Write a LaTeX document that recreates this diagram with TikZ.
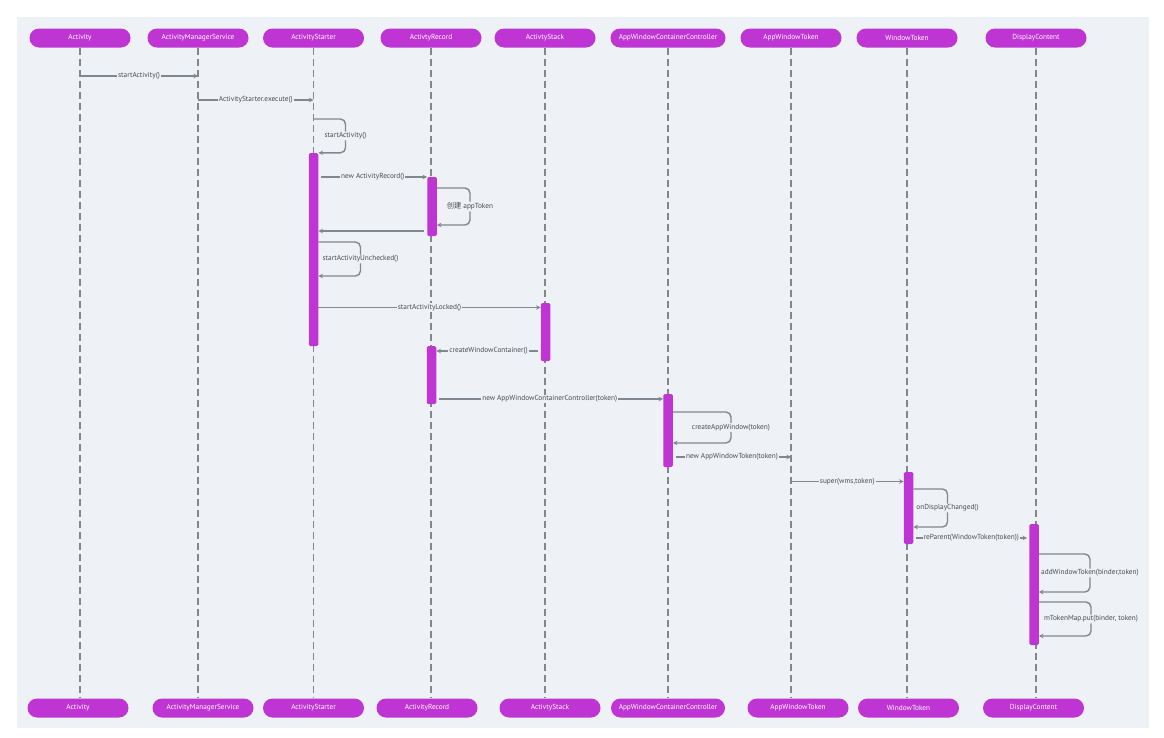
\documentclass[tikz,border=0pt]{standalone}
\usepackage{fontspec}
\setmainfont{PT Sans}
\newfontfamily\cjkfont{Noto Sans CJK SC}
\usetikzlibrary{arrows.meta}
\definecolor{objpurple}{HTML}{BE35D3}
\definecolor{panelgray}{HTML}{EEF2F6}
\definecolor{linegray}{HTML}{80878E}
\definecolor{textgray}{HTML}{464B51}
\begin{document}
\begin{tikzpicture}[x=1pt,y=-1pt,>={Stealth[length=4.5pt,width=4.5pt]},
  obj/.style={fill=objpurple,rounded corners=9.5pt,minimum width=101pt,minimum height=19pt,inner sep=0pt,text=white,font=\fontsize{7.3}{8}\selectfont},
  life/.style={draw=linegray,line width=1.4pt,dash pattern=on 7pt off 4pt},
  bar/.style={fill=objpurple,rounded corners=1.5pt,minimum width=9.5pt,inner sep=0pt},
  msg/.style={draw=linegray,line width=1.4pt,->},
  loopmsg/.style={msg,rounded corners=5pt},
  lbl/.style={fill=panelgray,text=textgray,inner sep=1pt,font=\fontsize{7.3}{8}\selectfont}]
\useasboundingbox (0,0) rectangle (1164,737);
\fill[panelgray] (17,17) rectangle (1149,728);
% participants, top
\node[obj] (actT) at (80,38) {Activity};
\node[obj] (amsT) at (198,38) {ActivityManagerService};
\node[obj] (staT) at (313.5,38) {ActivityStarter};
\node[obj] (recT) at (431,38) {ActivtyRecord};
\node[obj] (stkT) at (545,38) {ActivtyStack};
\node[obj,minimum width=115pt] (awcT) at (668,38) {AppWindowContainerController};
\node[obj] (awtT) at (791,38) {AppWindowToken};
\node[obj] (wtT) at (907,38) {WindowToken};
\node[obj] (dcT) at (1036,38) {DisplayContent};
% participants, bottom
\node[obj] (actB) at (78,708) {Activity};
\node[obj] (amsB) at (203,708) {ActivityManagerService};
\node[obj] (staB) at (313.5,708) {ActivityStarter};
\node[obj] (recB) at (427,708) {ActivityRecord};
\node[obj] (stkB) at (550,708) {ActivtyStack};
\node[obj,minimum width=114pt] (awcB) at (668,708) {AppWindowContainerController};
\node[obj] (awtB) at (798,708) {AppWindowToken};
\node[obj] (wtB) at (908.5,708) {WindowToken};
\node[obj] (dcB) at (1033.5,708) {DisplayContent};
% lifelines
\draw[life] (actT.south) -- (actT.south |- actB.north);
\draw[life] (amsT.south) -- (amsT.south |- amsB.north);
\draw[life] (staT.south) -- (staT.south |- staB.north);
\draw[life] (recT.south) -- (recT.south |- recB.north);
\draw[life] (stkT.south) -- (stkT.south |- stkB.north);
\draw[life] (awcT.south) -- (awcT.south |- awcB.north);
\draw[life] (awtT.south) -- (awtT.south |- awtB.north);
\draw[life] (wtT.south) -- (wtT.south |- wtB.north);
\draw[life] (dcT.south) -- (dcT.south |- dcB.north);
% activation bars
\node[bar,minimum height=193pt] (barS) at (313.5,249.5) {};
\node[bar,minimum height=59pt] (barR1) at (432,206.5) {};
\node[bar,minimum height=58pt] (barK) at (545.5,332) {};
\node[bar,minimum height=58pt] (barR2) at (431.5,375) {};
\node[bar,minimum height=73pt] (barC) at (668,430.5) {};
\node[bar,minimum height=72pt] (barW) at (908.5,508) {};
\node[bar,minimum height=121pt] (barD) at (1034,584.5) {};
% message rows
\coordinate (r1) at (0,76);
\coordinate (r2) at (0,100);
\coordinate (r3) at (0,119);
\coordinate (r4) at (0,177);
\coordinate (r5) at (0,188);
\coordinate (r6) at (0,231);
\coordinate (r7) at (0,242);
\coordinate (r8) at (0,307.5);
\coordinate (r9) at (0,351);
\coordinate (r10) at (0,399);
\coordinate (r11) at (0,412);
\coordinate (r12) at (0,457);
\coordinate (r13) at (0,481.5);
\coordinate (r14) at (0,489);
\coordinate (r15) at (0,538);
\coordinate (r16) at (0,554);
\coordinate (r17) at (0,602);
% messages
\draw[msg] (actT |- r1) -- node[lbl] {startActivity()} (amsT |- r1);
\draw[msg] (amsT |- r2) -- node[lbl] {ActivityStarter.execute()} (staT |- r2);
\draw[loopmsg] (staT |- r3) -- ++(32,0) |- node[lbl,pos=0.25] {startActivity()} (barS.north east);
\draw[msg,shorten <=3pt] (barS.east |- r4) -- node[lbl] {new ActivityRecord()} (barR1.west |- r4);
\draw[loopmsg] (barR1.east |- r5) -- ++(33,0) -- node[lbl] {{\cjkfont 创建} appToken} ++(0,37) -- ++(-33,0);
\draw[msg,shorten <=3pt] (barR1.west |- r6) -- (barS.east |- r6);
\draw[loopmsg] (barS.east |- r7) -- ++(42,0) -- node[lbl] {startActivityUnchecked()} ++(0,34) -- ++(-42,0);
\draw[msg] (barS.east |- r8) -- node[lbl] {startActivityLocked()} (barK.west |- r8);
\draw[msg,shorten <=3pt] (barK.west |- r9) -- node[lbl] {createWindowContainer()} (barR2.east |- r9);
\draw[msg,shorten <=3pt] (barR2.east |- r10) -- node[lbl] {new AppWindowContainerController(token)} (barC.west |- r10);
\draw[loopmsg] (barC.east |- r11) -- ++(58,0) -- node[lbl] {createAppWindow(token)} ++(0,31) -- ++(-58,0);
\draw[msg,shorten <=3pt] (barC.east |- r12) -- node[lbl] {new AppWindowToken(token)} (awtT |- r12);
\draw[msg] (awtT |- r13) -- node[lbl] {super(wms,token)} (barW.west |- r13);
\draw[loopmsg] (barW.east |- r14) -- ++(34,0) -- node[lbl] {onDisplayChanged()} ++(0,38) -- ++(-34,0);
\draw[msg,shorten <=3pt,shorten >=2pt] (barW.east |- r15) -- node[lbl] {reParent(WindowToken(token))} (barD.west |- r15);
\draw[loopmsg] (barD.east |- r16) -- ++(51,0) -- node[lbl] {addWindowToken(binder,token)} ++(0,38) -- ++(-51,0);
\draw[loopmsg] (barD.east |- r17) -- ++(52,0) -- node[lbl] {mTokenMap.put(binder, token)} ++(0,34) -- ++(-52,0);
\end{tikzpicture}
\end{document}
